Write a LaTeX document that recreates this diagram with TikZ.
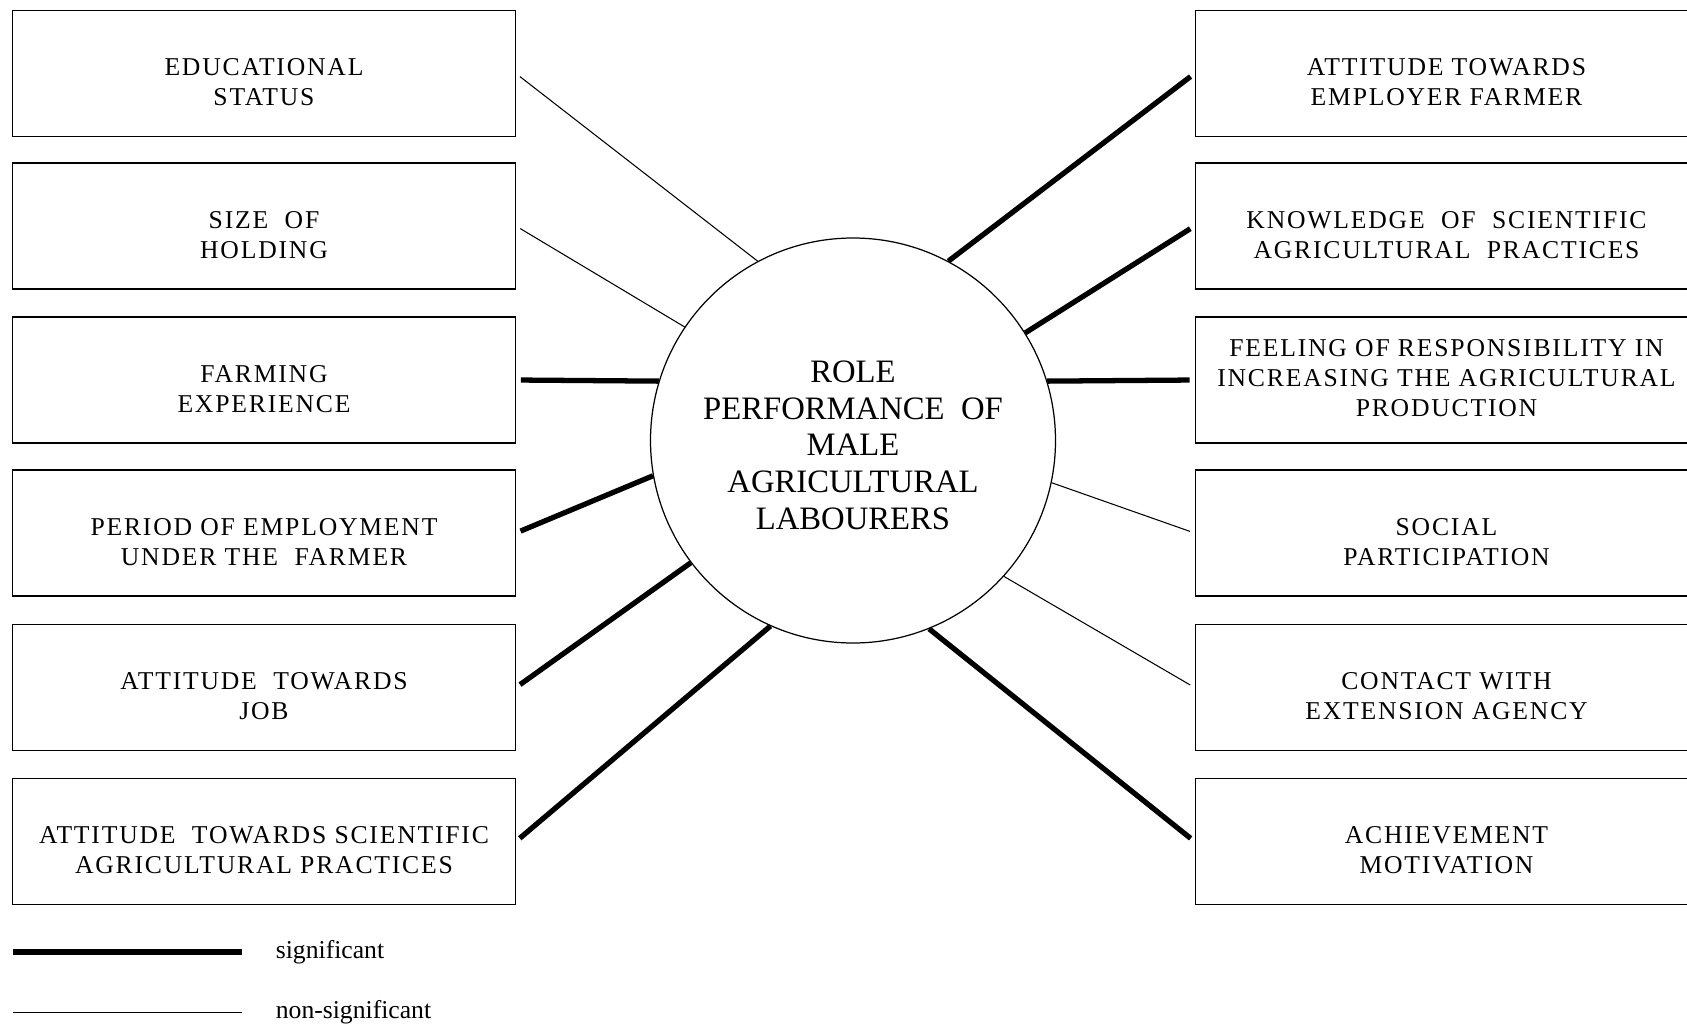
\documentclass[tikz,border=0pt]{standalone}
\usepackage{fontspec}
\setmainfont{Liberation Serif}
\tikzset{
  factor/.style={draw=black,line width=0.8pt,minimum width=10.05cm,minimum height=2.52cm,inner sep=0pt,align=center,text height=1.3cm,font=\fontsize{14.6}{17.2}\selectfont\addfontfeatures{LetterSpace=7}},
  role/.style={draw=black,circle,line width=0.7pt,minimum size=8.1cm,inner sep=0pt,align=center,text height=3.56cm,font=\fontsize{18.6}{20.9}\selectfont},
  sig/.style={line width=3pt,shorten <=0.1cm},
  nonsig/.style={line width=0.6pt,shorten <=0.1cm},
  legtext/.style={anchor=west,inner sep=0pt,font=\fontsize{14.6}{17}\selectfont}
}
\begin{document}
\begin{tikzpicture}
\path[fill=white,use as bounding box] (0,0) rectangle (33.74,-20.57);
\node[factor] (edu) at (5.28,-1.47) {EDUCATIONAL\\STATUS};
\node[factor] (size) at (5.28,-4.52) {SIZE\ \ OF\\HOLDING};
\node[factor] (farm) at (5.28,-7.60) {FARMING\\EXPERIENCE};
\node[factor] (period) at (5.28,-10.66) {PERIOD OF EMPLOYMENT\\UNDER THE\ \ FARMER};
\node[factor] (job) at (5.28,-13.75) {ATTITUDE\ \ TOWARDS\\JOB};
\node[factor] (sci) at (5.28,-16.83) {ATTITUDE\ \ TOWARDS SCIENTIFIC\\AGRICULTURAL PRACTICES};
\node[factor] (employer) at (28.93,-1.47) {ATTITUDE TOWARDS\\EMPLOYER FARMER};
\node[factor] (know) at (28.93,-4.52) {KNOWLEDGE\ \ OF\ \ SCIENTIFIC\\AGRICULTURAL\ \ PRACTICES};
\node[factor,text height=1.48cm] (resp) at (28.93,-7.60) {FEELING OF RESPONSIBILITY IN\\INCREASING THE AGRICULTURAL\\PRODUCTION};
\node[factor] (social) at (28.93,-10.66) {SOCIAL\\PARTICIPATION};
\node[factor] (contact) at (28.93,-13.75) {CONTACT WITH\\EXTENSION AGENCY};
\node[factor] (achieve) at (28.93,-16.83) {ACHIEVEMENT\\MOTIVATION};
\node[role] (role) at (17.06,-8.81) {ROLE\\PERFORMANCE\ \ OF\\MALE\\AGRICULTURAL\\LABOURERS};
\draw[nonsig] (edu.east) -- (role.118.8);
\draw[nonsig] (size.east) -- (role.146.9);
\draw[sig] (farm.east) -- (role.163.5);
\draw[sig] (period.east) -- (role.190.1);
\draw[sig] (job.east) -- (role.217.8);
\draw[sig] (sci.east) -- (role.246.4);
\draw[sig] (employer.west) -- (role.62.1);
\draw[sig] (know.west) -- (role.32.9);
\draw[sig] (resp.west) -- (role.17);
\draw[nonsig] (social.west) -- (role.-12.9);
\draw[nonsig] (contact.west) -- (role.-42);
\draw[sig] (achieve.west) -- (role.-68.2);
\coordinate (sigA) at (0.26,-19.04);
\coordinate (sigB) at (4.84,-19.04);
\draw[line width=3pt] (sigA) -- (sigB);
\node[legtext] (sigtxt) at (5.51,-19.04) {significant};
\coordinate (nonsigA) at (0.26,-20.25);
\coordinate (nonsigB) at (4.84,-20.25);
\draw[line width=0.6pt] (nonsigA) -- (nonsigB);
\node[legtext] (nonsigtxt) at (5.51,-20.25) {non-significant};
\end{tikzpicture}
\end{document}
